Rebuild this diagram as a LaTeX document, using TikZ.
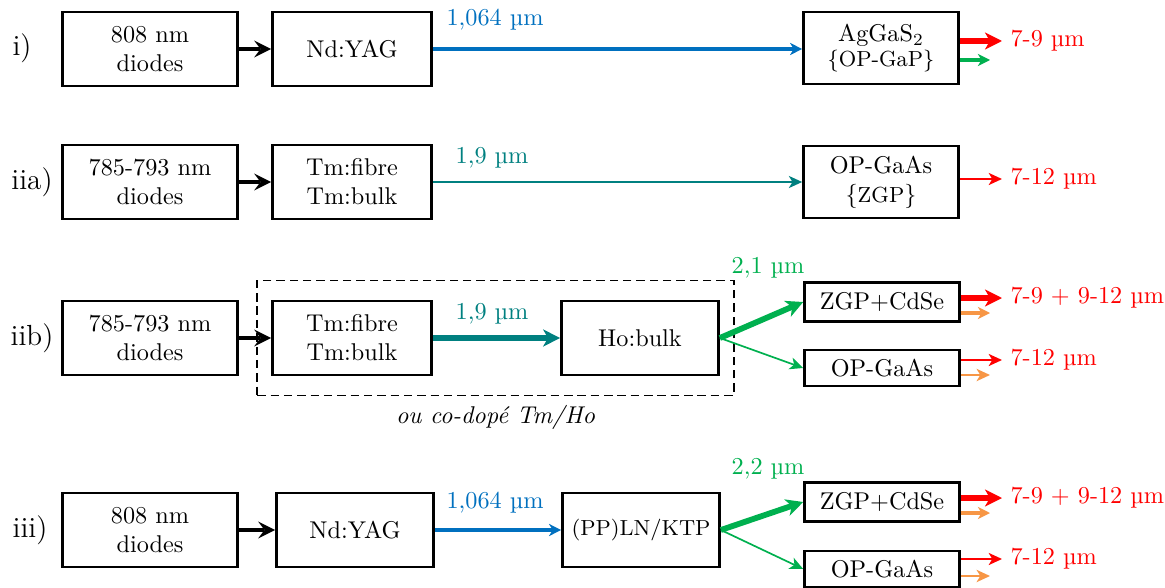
\documentclass[tikz,border=0pt]{standalone}
\usepackage{fontspec}
\usepackage{amsmath}
\usepackage{tikz}
\usetikzlibrary{arrows}
\usetikzlibrary{arrows.meta}
\usetikzlibrary{positioning}
\usetikzlibrary{fit}
\definecolor{mblue}{rgb}{0.0, 0.44, 0.75}
\definecolor{mteal}{rgb}{0.0, 0.5, 0.5}
\definecolor{mgreen}{rgb}{0.0, 0.69, 0.31}
\definecolor{morange}{rgb}{0.97, 0.59, 0.27}
\tikzset{bloc/.style = {draw, line width = 1pt, align = center, minimum width = 2.54cm, minimum height = 1.07cm, inner sep = 1pt}}
\tikzset{cristal/.style = {bloc, minimum width = 2.25cm, minimum height = 1.04cm}}
\tikzset{petit/.style = {bloc, minimum width = 2.25cm, minimum height = 0.56cm}}
\tikzset{pompe/.style = {-stealth, line width = 2pt}}
\tikzset{fin/.style = {-{Stealth[length = 5.5pt, width = 5pt, inset = 1.5pt]}, line width = 0.7pt}}
\tikzset{moyen/.style = {-{Stealth[length = 5pt, width = 5pt, inset = 1.5pt]}, line width = 1.3pt}}
\tikzset{gros/.style = {-{Stealth[length = 7pt, width = 7pt, inset = 2pt]}, line width = 2.4pt}}
\tikzset{sortie/.style = {anchor = west, text = red}}

\begin{document}
\begin{tikzpicture}[x = 0.0145cm, y = -0.0145cm]
        \useasboundingbox (0, 0) rectangle (1165, 587);
        % i)
        \node at (22, 48) {\large i)};
        \node [bloc] (dioA) at (150, 49) {808 nm\\diodes};
        \node [bloc, minimum width = 2.31cm] (ndA) at (352, 49) {Nd:YAG};
        \node [cristal] (agA) at (881, 48) {AgGaS$_2$\\[-2pt]{\small\{OP-GaP\}}};
        \draw [pompe] (dioA) -- (ndA);
        \draw [moyen, mblue, line width = 1.6pt] (ndA.east) -- (ndA.east -| agA.west);
        \node [text = mblue] at (495, 20) {1,064 µm};
        \node [sortie] (outA) at (1002, 41) {7-9 µm};
        \draw [gros, red] (agA.east |- outA) -- (outA.west);
        \coordinate (grA) at (990, 60);
        \draw [moyen, mgreen] (agA.east |- grA) -- (grA);
        % iia)
        \node at (32, 182) {\large iia)};
        \node [bloc] (dioB) at (150, 182) {785-793 nm\\diodes};
        \node [bloc, minimum width = 2.31cm] (tmB) at (352, 182) {Tm:fibre\\Tm:bulk};
        \node [cristal] (gaB) at (881, 182) {OP-GaAs\\\{{\small ZGP}\}};
        \draw [pompe] (dioB) -- (tmB);
        \draw [fin, mteal] (tmB) -- (gaB);
        \node [text = mteal] at (492, 158) {1,9 µm};
        \node [sortie] (outB) at (1002, 179) {7-12 µm};
        \draw [fin, red, line width = 0.8pt] (gaB.east |- outB) -- (outB.west);
        % iib)
        \node at (32, 338) {\large iib)};
        \node [bloc] (dioC) at (150, 338) {785-793 nm\\diodes};
        \node [bloc, minimum width = 2.31cm] (tmC) at (352, 338) {Tm:fibre\\Tm:bulk};
        \node [bloc, minimum width = 2.28cm] (hoC) at (640, 338) {Ho:bulk};
        \node [draw, dash pattern = on 3.5pt off 2pt, line width = 0.7pt, fit = (tmC) (hoC), inner xsep = 0.2cm, inner ysep = 0.28cm] (codope) {};
        \node [below = 0pt of codope] {\textit{ou co-dopé Tm/Ho}};
        \node [petit] (zgC) at (882, 302) {ZGP+CdSe};
        \node [petit, minimum height = 0.53cm] (gaC) at (882, 368) {OP-GaAs};
        \draw [pompe] (dioC) -- (tmC);
        \draw [gros, mteal] (tmC) -- (hoC);
        \node [text = mteal] at (492, 314) {1,9 µm};
        \draw [gros, mgreen] (hoC.east) -- (zgC.west);
        \draw [fin, mgreen] (hoC.east) -- (gaC.west);
        \node [text = mgreen] at (768, 268) {2,1 µm};
        \node [sortie] (outC) at (1002, 298) {7-9 $+$ 9-12 µm};
        \draw [gros, red] (zgC.east |- outC) -- (outC.west);
        \coordinate (orC) at (990, 313);
        \draw [moyen, morange] (zgC.east |- orC) -- (orC);
        \node [sortie] (outD) at (1002, 360) {7-12 µm};
        \draw [fin, red, line width = 0.8pt] (gaC.east |- outD) -- (outD.west);
        \coordinate (orD) at (990, 375);
        \draw [fin, morange, line width = 1pt] (gaC.east |- orD) -- (orD);
        % iii)
        \node at (30, 530) {\large iii)};
        \node [bloc] (dioD) at (150, 530) {808 nm\\diodes};
        \node [bloc, minimum width = 2.28cm] (ndD) at (355, 530) {Nd:YAG};
        \node [bloc, minimum width = 2.28cm] (plD) at (641, 530) {\small(PP)LN/KTP};
        \node [petit] (zgD) at (882, 502) {ZGP+CdSe};
        \node [petit, minimum height = 0.53cm] (gaD) at (882, 569) {OP-GaAs};
        \draw [pompe] (dioD) -- (ndD);
        \draw [moyen, mblue, line width = 1.6pt] (ndD) -- (plD);
        \node [text = mblue] at (495, 503) {1,064 µm};
        \draw [gros, mgreen] (plD.east) -- (zgD.west);
        \draw [fin, mgreen] (plD.east) -- (gaD.west);
        \node [text = mgreen] at (768, 469) {2,2 µm};
        \node [sortie] (outE) at (1002, 498) {7-9 $+$ 9-12 µm};
        \draw [gros, red] (zgD.east |- outE) -- (outE.west);
        \coordinate (orE) at (990, 513);
        \draw [moyen, morange] (zgD.east |- orE) -- (orE);
        \node [sortie] (outF) at (1002, 559) {7-12 µm};
        \draw [fin, red, line width = 0.8pt] (gaD.east |- outF) -- (outF.west);
        \coordinate (orF) at (990, 576);
        \draw [fin, morange, line width = 1pt] (gaD.east |- orF) -- (orF);
      \end{tikzpicture}
\end{document}
